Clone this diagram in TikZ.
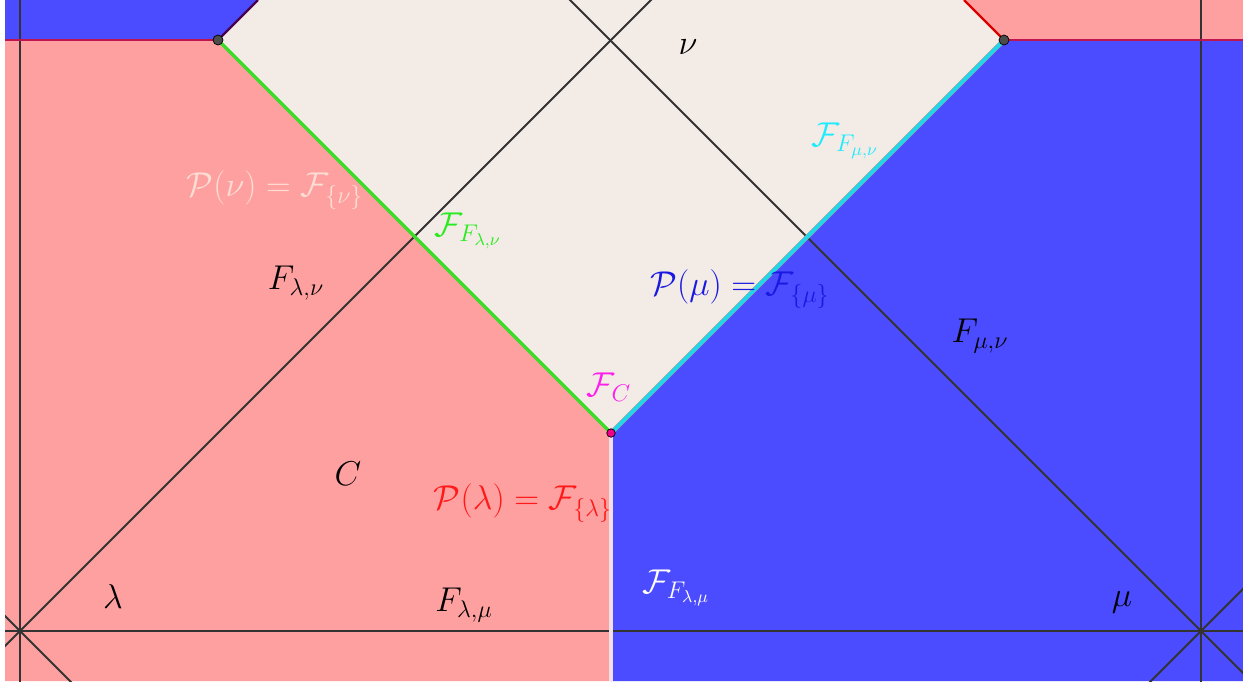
\documentclass[tikz,border=0pt]{standalone}
\usepackage{fix-cm}
\usepackage{amsmath}
\usetikzlibrary{calc}

\definecolor{regpink}{RGB}{255,160,160}
\definecolor{regblue}{RGB}{75,75,255}
\definecolor{regbeige}{RGB}{243,235,230}
\definecolor{edgecrimson}{RGB}{190,20,80}
\definecolor{edgegreen}{RGB}{58,220,40}
\definecolor{edgecyan}{RGB}{30,215,235}
\definecolor{edgewhite}{RGB}{240,222,232}
\definecolor{txtpeach}{RGB}{250,222,212}
\definecolor{txtgreen}{RGB}{40,235,30}
\definecolor{txtblue}{RGB}{25,25,225}
\definecolor{txtmagenta}{RGB}{255,30,235}
\definecolor{txtred}{RGB}{255,25,25}
\definecolor{txtcyan}{RGB}{30,235,255}

\begin{document}
\begin{tikzpicture}[
  x=0.02cm, y=-0.02cm,
  font=\fontsize{19.6}{23}\selectfont,
  axis/.style={draw=black!80, line width=1.15pt},
  edge/.style={line width=2pt},
  dot/.style={circle, draw=black, inner sep=0pt, minimum size=0.2cm},
  lbl/.style={inner sep=0pt}
]
\useasboundingbox (0,0) rectangle (1243,681);
\clip (5,0) rectangle (1243,681);

% points
\coordinate (lam) at (20,631);
\coordinate (mu)  at (1201,631);
\coordinate (nu)  at (610.5,40.5);
\coordinate (C)   at (611,433);
\coordinate (A)   at (218,40);
\coordinate (B)   at (1004,40);

% regions
\fill[regbeige] (0,0) rectangle (1243,681);
\fill[regpink] (0,40) -- (A) -- (C) -- (C |- 0,681) -- (0,681) -- cycle;
\fill[regpink] (B) -- ($(B)+(-40,-40)$) -- (1243,0) -- (1243,40) -- cycle;
\fill[regblue] (B) -- (1243,40) -- (1243,681) -- (C |- 0,681) -- (C) -- cycle;
\fill[regblue] (0,0) -- ($(A)+(40,-40)$) -- (A) -- (0,40) -- cycle;

% lines
\draw[axis] ($(lam)+(0,-700)$) -- ($(lam)+(0,100)$);
\draw[axis] ($(mu)+(0,-700)$) -- ($(mu)+(0,100)$);
\draw[axis] ($(lam)+(-50,0)$) -- ($(mu)+(100,0)$);
\draw[axis] ($(lam)+(-100,-100)$) -- ($(lam)+(100,100)$);
\draw[axis] ($(lam)+(-100,100)$) -- ($(lam)+(700,-700)$);
\draw[axis] ($(mu)+(100,-100)$) -- ($(mu)+(-100,100)$);
\draw[axis] ($(mu)+(100,100)$) -- ($(mu)+(-700,-700)$);

% boundaries
\draw[edgecrimson, line width=1.3pt] (0,40) -- (A);
\draw[edgecrimson, line width=1.3pt] (B) -- (1243,40);
\draw[black!60!red!70!blue, line width=1.3pt] (A) -- ($(A)+(40,-40)$);
\draw[red!85!black, line width=1.3pt] (B) -- ($(B)+(-40,-40)$);
\draw[edge, edgewhite] (C) -- (C |- 0,681);
\draw[edge, edgegreen] (A) -- (C);
\draw[edge, black!40, line width=2.6pt] (C) -- (B);
\draw[edge, edgecyan] (C) -- (B);

\node[dot, fill=black!70] (pA) at (A) {};
\node[dot, fill=black!70] (pB) at (B) {};
\node[dot, fill=magenta, minimum size=0.17cm] (pC) at (C) {};

% labels
\node[lbl] (tnu)   at (688,47)  {$\nu$};
\node[lbl, text=txtcyan] (tFmunu) at (845,141) {$\mathcal{F}_{F_{\mu,\nu}}$};
\node[lbl, text=txtpeach] (tPnu) at (275,190) {$\mathcal{P}(\nu)=\mathcal{F}_{\{\nu\}}$};
\node[lbl, text=txtgreen] (tFlamnu) at (468,231) {$\mathcal{F}_{F_{\lambda,\nu}}$};
\node[lbl] (flamnu) at (296,283) {$F_{\lambda,\nu}$};
\node[lbl, text=txtblue] (tPmu) at (740,289) {$\mathcal{P}(\mu)=\mathcal{F}_{\{\mu\}}$};
\node[lbl] (fmunu) at (980,336) {$F_{\mu,\nu}$};
\node[lbl, text=txtmagenta] (tFC) at (609,387) {$\mathcal{F}_C$};
\node[lbl] (tC) at (348,474) {$C$};
\node[lbl, text=txtred] (tPlam) at (523,503) {$\mathcal{P}(\lambda)=\mathcal{F}_{\{\lambda\}}$};
\node[lbl] (tlam) at (113,597) {$\lambda$};
\node[lbl] (flammu) at (464,605) {$F_{\lambda,\mu}$};
\node[lbl, text=white] (tFlammu) at (676,588) {$\mathcal{F}_{F_{\lambda,\mu}}$};
\node[lbl] (tmu) at (1122,602) {$\mu$};
\end{tikzpicture}
\end{document}
